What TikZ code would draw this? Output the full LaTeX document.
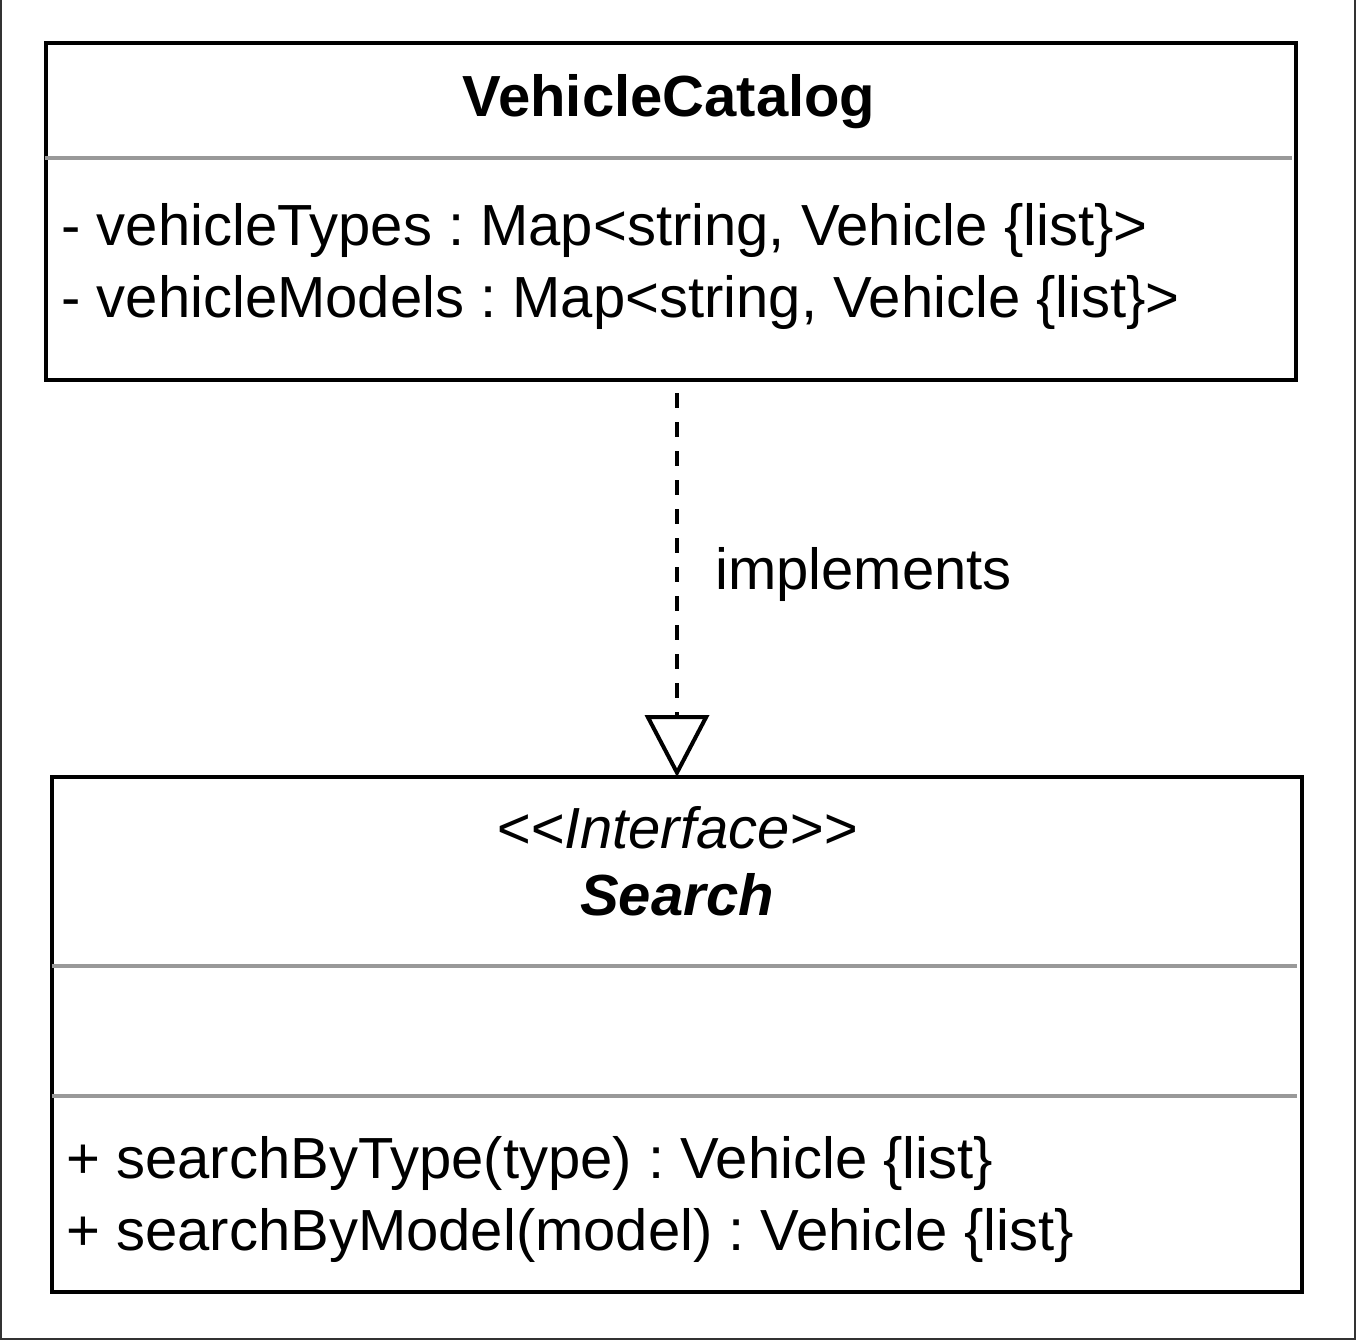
\documentclass[tikz,border=0pt]{standalone}
\usepackage{fontspec}
\setmainfont{Liberation Sans}
\usetikzlibrary{arrows.meta}
\frenchspacing

\tikzset{
    classbox/.style={draw, line width=2pt, inner sep=0pt, outer sep=0pt, minimum width=625pt},
    divider/.style={draw=black!40, line width=2pt},
    member/.style={anchor=base west, inner sep=0pt},
    title/.style={anchor=base, inner sep=0pt},
    realizes/.style={line width=2pt, dash pattern=on 7.5pt off 7pt, shorten <=6.5pt,
        -{Triangle[open, length=31pt, width=32pt]}},
}

\begin{document}
\begin{tikzpicture}[x=0.5pt, y=-0.5pt, font=\fontsize{29}{36}\selectfont]
    \useasboundingbox (0,0) rectangle (1356,1340);
    % frame
    \draw[black!80, line width=0.8pt] (1,0) -- (1,1339) -- (1355,1339) -- (1355,0);

    % VehicleCatalog
    \node[classbox, minimum height=168.5pt] (catalog) at (670.5,211.5) {};
    \node[title, font=\fontsize{29}{36}\selectfont\bfseries] (catalogname) at (669,116) {VehicleCatalog};
    \draw[divider] (45,158) -- (1292,158);
    \node[member] (types) at (61,245) {- vehicleTypes : Map<string, Vehicle \{list\}>};
    \node[member] (models) at (61,317) {- vehicleModels : Map<string, Vehicle \{list\}>};

    % Search
    \node[classbox, minimum height=257.5pt] (search) at (677,1034.5) {};
    \node[title, font=\fontsize{29}{36}\selectfont\itshape] (stereo) at (677,848) {{<}{<}Interface{>}{>}};
    \node[title, font=\fontsize{29}{36}\selectfont\bfseries\itshape] (searchname) at (677,915) {Search};
    \draw[divider] (52,966) -- (1297,966);
    \draw[divider] (52,1096) -- (1297,1096);
    \node[member] (bytype) at (66,1178) {+ searchByType(type) : Vehicle \{list\}};
    \node[member] (bymodel) at (66,1250) {+ searchByModel(model) : Vehicle \{list\}};

    % implements
    \draw[realizes] (search.north |- catalog.south) -- (search.north);
    \node[member] (impl) at (715,589) {implements};
\end{tikzpicture}
\end{document}
